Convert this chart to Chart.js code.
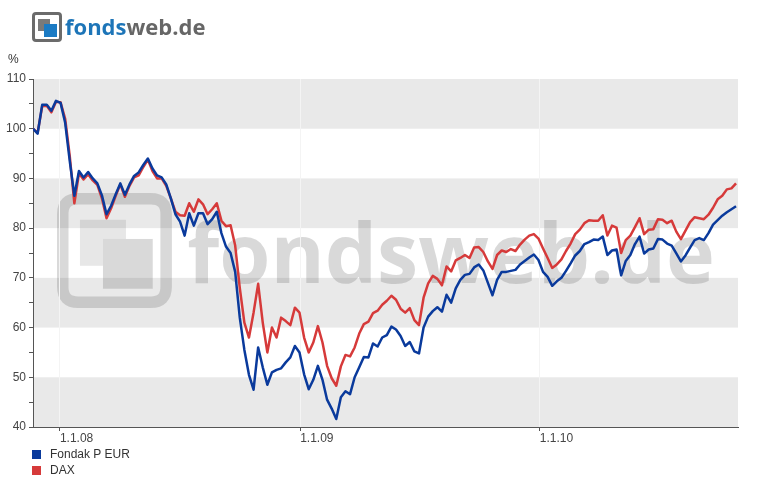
<!DOCTYPE html>
<html><head><meta charset="utf-8">
<script src="https://cdn.jsdelivr.net/npm/chart.js@4.4.1/dist/chart.umd.min.js"></script>
<style>
html,body{margin:0;padding:0;background:#fff;}
#wrap{position:relative;width:770px;height:477px;overflow:hidden;font-family:'Liberation Sans',Arial,sans-serif;}
#c{position:absolute;left:0;top:0;}
#logoIcon{position:absolute;left:32px;top:12px;width:30px;height:30px;box-sizing:border-box;border:3px solid #6b6b6b;border-radius:4px;}
#logoIcon .a{position:absolute;left:3px;top:4px;width:12px;height:12px;background:#7a7a7a;}
#logoIcon .b{position:absolute;left:9px;top:9px;width:13px;height:13px;background:#1b7bc4;}
#logoText{position:absolute;left:65px;top:15px;font-family:'Open Sans',sans-serif;font-weight:700;font-size:22px;line-height:22px;white-space:nowrap;}
#pct{position:absolute;left:8px;top:52px;font-size:12px;color:#333;}
#legend{position:absolute;left:32px;top:446px;font-size:12px;color:#333;}
#legend .row{height:16px;line-height:16px;white-space:nowrap;}
#legend .sw{display:inline-block;width:9px;height:9px;margin-right:9px;vertical-align:-1px;}
</style></head><body>
<div id="wrap">
  <canvas id="c" width="770" height="477"></canvas>
  <div id="logoIcon"><div class="a"></div><div class="b"></div></div>
  <div id="logoText"><span style="color:#1d75b8">fonds</span><span style="color:#666">web.de</span></div>
  <div id="pct">%</div>
  <div id="legend"></div>
</div>
<script>
const seriesNames = ['Fondak P EUR', 'DAX'];
const seriesColors = ['#0a3a9c', '#d63a3a'];
const tickDates = ['2008-01-01', '2009-01-01', '2010-01-01'];
const tickLabels = ['1.1.08', '1.1.09', '1.1.10'];
const xRange = ['2007-11-21', '2010-10-30'];
const yRange = [40, 110];

const dates = [
'2007-11-21','2007-11-28','2007-12-05','2007-12-12','2007-12-19','2007-12-26',
'2008-01-02','2008-01-09','2008-01-16','2008-01-23','2008-01-30',
'2008-02-06','2008-02-13','2008-02-20','2008-02-27',
'2008-03-05','2008-03-12','2008-03-19','2008-03-26',
'2008-04-02','2008-04-09','2008-04-16','2008-04-23','2008-04-30',
'2008-05-07','2008-05-14','2008-05-21','2008-05-28',
'2008-06-04','2008-06-11','2008-06-18','2008-06-25',
'2008-07-02','2008-07-09','2008-07-16','2008-07-23','2008-07-30',
'2008-08-06','2008-08-13','2008-08-20','2008-08-27',
'2008-09-03','2008-09-10','2008-09-17','2008-09-24',
'2008-10-01','2008-10-08','2008-10-15','2008-10-22','2008-10-29',
'2008-11-05','2008-11-12','2008-11-19','2008-11-26',
'2008-12-03','2008-12-10','2008-12-17','2008-12-24','2008-12-31',
'2009-01-07','2009-01-14','2009-01-21','2009-01-28',
'2009-02-04','2009-02-11','2009-02-18','2009-02-25',
'2009-03-04','2009-03-11','2009-03-18','2009-03-25',
'2009-04-01','2009-04-08','2009-04-15','2009-04-22','2009-04-29',
'2009-05-06','2009-05-13','2009-05-20','2009-05-27',
'2009-06-03','2009-06-10','2009-06-17','2009-06-24',
'2009-07-01','2009-07-08','2009-07-15','2009-07-22','2009-07-29',
'2009-08-05','2009-08-12','2009-08-19','2009-08-26',
'2009-09-02','2009-09-09','2009-09-16','2009-09-23','2009-09-30',
'2009-10-07','2009-10-14','2009-10-21','2009-10-28',
'2009-11-04','2009-11-11','2009-11-18','2009-11-25',
'2009-12-02','2009-12-09','2009-12-16','2009-12-23','2009-12-30',
'2010-01-06','2010-01-13','2010-01-20','2010-01-27',
'2010-02-03','2010-02-10','2010-02-17','2010-02-24',
'2010-03-03','2010-03-10','2010-03-17','2010-03-24','2010-03-31',
'2010-04-07','2010-04-14','2010-04-21','2010-04-28',
'2010-05-05','2010-05-12','2010-05-19','2010-05-26',
'2010-06-02','2010-06-09','2010-06-16','2010-06-23','2010-06-30',
'2010-07-07','2010-07-14','2010-07-21','2010-07-28',
'2010-08-04','2010-08-11','2010-08-18','2010-08-25',
'2010-09-01','2010-09-08','2010-09-15','2010-09-22','2010-09-29',
'2010-10-06','2010-10-13','2010-10-20','2010-10-27'
];

const fondak = [
100.0,99.0,104.8,104.8,103.6,105.6,105.2,101.2,93.5,86.5,
91.5,90.2,91.3,90.0,89.0,86.6,82.8,84.5,86.8,89.0,
86.7,88.8,90.5,91.2,92.7,94.0,92.0,90.6,90.2,88.8,
86.0,82.8,81.3,78.5,83.0,80.5,83.0,83.0,80.8,81.8,
83.3,79.0,76.3,75.0,71.2,62.0,55.5,50.5,47.5,56.0,
52.0,48.5,51.0,51.5,51.8,53.0,54.0,56.3,55.0,50.6,
47.6,49.5,52.3,49.5,45.5,43.7,41.6,46.0,47.2,46.6,
50.0,52.0,54.1,54.0,56.8,56.2,58.0,58.5,60.2,59.6,
58.3,56.3,57.1,55.2,54.8,60.0,62.2,63.3,64.1,63.2,
66.6,65.0,67.9,69.6,70.6,70.8,72.1,72.7,71.5,69.0,
66.5,69.6,71.2,71.2,71.4,71.6,72.7,73.4,74.1,74.7,
73.6,71.2,70.2,68.4,69.3,70.0,71.4,72.9,74.5,75.4,
76.8,77.2,77.7,77.6,78.3,74.6,75.5,75.7,70.5,73.4,
74.6,76.8,78.3,74.9,75.7,75.9,77.8,77.7,76.9,76.5,
74.9,73.3,74.5,76.1,77.6,78.0,77.6,79.0,80.7,81.6,
82.5,83.2,83.8,84.4
];

const dax = [
100.0,99.2,104.5,104.6,103.3,105.4,105.3,102.0,94.5,85.0,
91.0,89.8,90.8,89.6,88.7,86.0,82.0,84.0,86.5,88.8,
86.3,88.5,90.2,90.6,92.3,93.8,91.5,90.0,90.0,88.5,
86.0,83.3,82.6,82.5,85.0,83.3,85.8,84.8,82.8,83.8,
85.0,81.5,80.4,80.6,76.5,68.0,61.0,58.0,63.0,68.8,
61.0,55.0,60.0,58.0,62.0,61.3,60.5,64.0,63.0,58.0,
55.0,57.0,60.3,57.0,52.3,49.8,48.3,52.2,54.5,54.2,
56.0,58.8,60.7,61.2,62.9,63.4,64.6,65.4,66.4,65.6,
63.8,63.0,63.9,61.5,60.5,66.0,68.9,70.4,69.8,68.5,
72.3,71.3,73.5,74.0,74.6,74.0,76.1,76.2,75.2,73.3,
71.8,74.6,75.5,75.2,75.8,75.4,76.7,77.7,78.5,78.8,
77.9,75.9,74.0,72.0,72.7,73.7,75.4,76.9,78.8,79.7,
81.0,81.6,81.5,81.5,82.6,78.5,80.5,80.1,75.0,77.6,
78.5,80.2,82.0,78.8,79.7,79.8,81.8,81.7,81.0,81.5,
79.3,77.8,79.5,81.2,82.2,82.0,81.8,82.7,84.1,85.8,
86.5,87.8,88.0,89.0
];

const toTime = d => Date.parse(d + 'T00:00:00Z');

// legend (HTML)
const lg = document.getElementById('legend');
seriesNames.forEach((n, i) => {
  const r = document.createElement('div'); r.className = 'row';
  const s = document.createElement('span'); s.className = 'sw'; s.style.background = seriesColors[i];
  r.appendChild(s); r.appendChild(document.createTextNode(n)); lg.appendChild(r);
});

function rr(ctx, x, y, w, h, r) {
  ctx.beginPath();
  ctx.moveTo(x + r, y); ctx.lineTo(x + w - r, y); ctx.quadraticCurveTo(x + w, y, x + w, y + r);
  ctx.lineTo(x + w, y + h - r); ctx.quadraticCurveTo(x + w, y + h, x + w - r, y + h);
  ctx.lineTo(x + r, y + h); ctx.quadraticCurveTo(x, y + h, x, y + h - r);
  ctx.lineTo(x, y + r); ctx.quadraticCurveTo(x, y, x + r, y); ctx.closePath();
}

const bgPlugin = {
  id: 'bg',
  beforeDraw(chart) {
    const { ctx, chartArea: a, scales: { y } } = chart;
    ctx.save();
    ctx.fillStyle = '#e9e9e9';
    for (let v = y.min; v < y.max; v += 20) {
      const t = y.getPixelForValue(Math.min(v + 10, y.max)), b = y.getPixelForValue(v);
      ctx.fillRect(a.left, t, a.right - a.left, b - t);
    }
    ctx.beginPath(); ctx.rect(a.left, a.top, a.right - a.left, a.bottom - a.top); ctx.clip();
    // watermark (scaled logo)
    const s = 3.83, ox = 57, oy = 193;
    const wm = 'rgba(110,110,110,0.26)';
    ctx.strokeStyle = wm; ctx.lineWidth = 3 * s;
    rr(ctx, ox + 1.5 * s, oy + 1.5 * s, 30 * s - 3 * s, 30 * s - 3 * s, 4 * s);
    ctx.stroke();
    const b2 = [ox + 12 * s, oy + 12 * s, 13 * s, 13 * s];
    ctx.save();
    ctx.beginPath(); ctx.rect(0, 0, 770, 477); ctx.rect(b2[0], b2[1], b2[2], b2[3]);
    ctx.clip('evenodd');
    ctx.fillStyle = 'rgba(110,110,110,0.17)';
    ctx.fillRect(ox + 6 * s, oy + 7 * s, 12 * s, 12 * s);
    ctx.restore();
    ctx.fillStyle = wm;
    ctx.fillRect(b2[0], b2[1], b2[2], b2[3]);
    ctx.font = 'bold 100px "Open Sans"';
    const w100 = ctx.measureText('fondsweb.de').width;
    const fs = 100 * 528 / w100;
    ctx.font = 'bold ' + fs.toFixed(1) + 'px "Open Sans"';
    ctx.textBaseline = 'alphabetic';
    ctx.fillText('fondsweb.de', ox + 34 * s, oy + 23.4 * s);
    ctx.restore();
  }
};

const font = { family: "'Liberation Sans', Arial, sans-serif", size: 12 };

new Chart(document.getElementById('c'), {
  type: 'line',
  data: {
    datasets: [
      { label: seriesNames[0], data: dates.map((d, i) => ({ x: toTime(d), y: fondak[i] })),
        borderColor: seriesColors[0], backgroundColor: seriesColors[0] },
      { label: seriesNames[1], data: dates.map((d, i) => ({ x: toTime(d), y: dax[i] })),
        borderColor: seriesColors[1], backgroundColor: seriesColors[1] }
    ]
  },
  options: {
    responsive: false, animation: false, devicePixelRatio: 1,
    layout: { padding: { left: 0, right: 32, top: 79, bottom: 0 } },
    plugins: { legend: { display: false }, tooltip: { enabled: false } },
    elements: { point: { radius: 0 }, line: { tension: 0, borderWidth: 2.5, borderJoinStyle: 'round' } },
    scales: {
      x: {
        type: 'linear', min: toTime(xRange[0]), max: toTime(xRange[1]),
        afterBuildTicks(sc) { sc.ticks = tickDates.map(d => ({ value: toTime(d) })); },
        afterFit(sc) { sc.height = 50; },
        ticks: { align: 'start', padding: 0, autoSkip: false, maxRotation: 0, color: '#444', font,
          callback: (v, i) => tickLabels[i] },
        grid: { color: '#f4f4f4', tickColor: '#555', tickLength: 4, lineWidth: 1 },
        border: { color: '#555', width: 1 }
      },
      y: {
        min: yRange[0], max: yRange[1],
        afterFit(sc) { sc.width = 33; },
        ticks: { stepSize: 5, autoSkip: false, padding: 3, color: '#444', font,
          callback: v => (v % 10 === 0 ? String(v) : '') },
        grid: { drawOnChartArea: false, tickColor: '#555', tickLength: 4 },
        border: { color: '#555', width: 1 }
      }
    }
  },
  plugins: [bgPlugin]
});
</script>
</body></html>
